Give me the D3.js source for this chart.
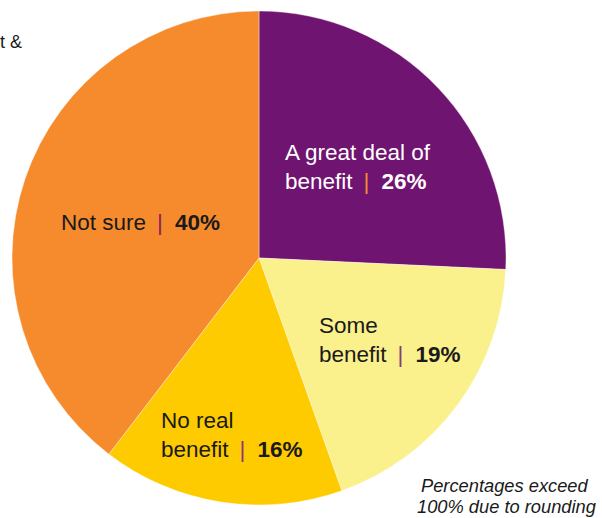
<!DOCTYPE html>
<html>
<head>
<meta charset="utf-8">
<script src="https://cdn.jsdelivr.net/npm/d3@7"></script>
<style>
  body { margin: 0; background: #fff; }
  text { font-family: "Liberation Sans", Arial, sans-serif; }
</style>
</head>
<body>
<div id="chart"></div>
<script>
// slice data, clockwise from 12 o'clock
var categories = ["A great deal of benefit", "Some benefit", "No real benefit", "Not sure"];
var values = [26, 19, 16, 40];
var colors = ["#6f1470", "#faf08c", "#fecb00", "#f68b2d"];
// label lines (last line gets the separator and the percentage)
var labelLines = [["A great deal of", "benefit"], ["Some", "benefit"], ["No real", "benefit"], ["Not sure"]];
var textColors = ["#ffffff", "#1a1a1a", "#1a1a1a", "#1a1a1a"];
var barColors = ["#f68b2d", "#8a3a7a", "#8a3a7a", "#8a1e5a"];
// label anchor (left edge, first baseline)
var labelPos = [[285, 160], [319, 333], [161, 428], [61, 230]];

var width = 602, height = 518;
var cx = 259, cy = 258, radius = 247;

var svg = d3.select("#chart").append("svg")
    .attr("width", width)
    .attr("height", height);

// clipped text from a neighbouring panel
svg.append("text")
    .attr("x", 0)
    .attr("y", 48)
    .attr("font-size", 18)
    .attr("fill", "#1a1a1a")
    .text("t &");

var pie = d3.pie().sort(null).value(function(d) { return d; });
var arc = d3.arc().innerRadius(0).outerRadius(radius);

var g = svg.append("g")
    .attr("transform", "translate(" + cx + "," + cy + ")");

g.selectAll("path")
    .data(pie(values))
    .enter().append("path")
    .attr("d", arc)
    .attr("fill", function(d, i) { return colors[i]; })
    .attr("stroke", "#ffffff")
    .attr("stroke-width", 0.4);

// labels
var labels = svg.selectAll(".label")
    .data(categories)
    .enter().append("text")
    .attr("class", "label")
    .attr("font-size", 22.5)
    .attr("fill", function(d, i) { return textColors[i]; });

labels.each(function(d, i) {
    var t = d3.select(this);
    var lines = labelLines[i];
    lines.forEach(function(line, j) {
        t.append("tspan")
            .attr("x", labelPos[i][0])
            .attr("y", labelPos[i][1] + j * 29)
            .text(line);
        if (j === lines.length - 1) {
            t.append("tspan")
                .attr("dx", 11)
                .attr("fill", barColors[i])
                .text("|");
            t.append("tspan")
                .attr("dx", 12)
                .attr("font-weight", "bold")
                .text(values[i] + "%");
        }
    });
});

// footnote
var note = svg.append("text")
    .attr("font-size", 18.3)
    .attr("font-style", "italic")
    .attr("fill", "#1a1a1a");
note.append("tspan").attr("x", 421).attr("y", 492).text("Percentages exceed");
note.append("tspan").attr("x", 417).attr("y", 513).text("100% due to rounding");
</script>
</body>
</html>
